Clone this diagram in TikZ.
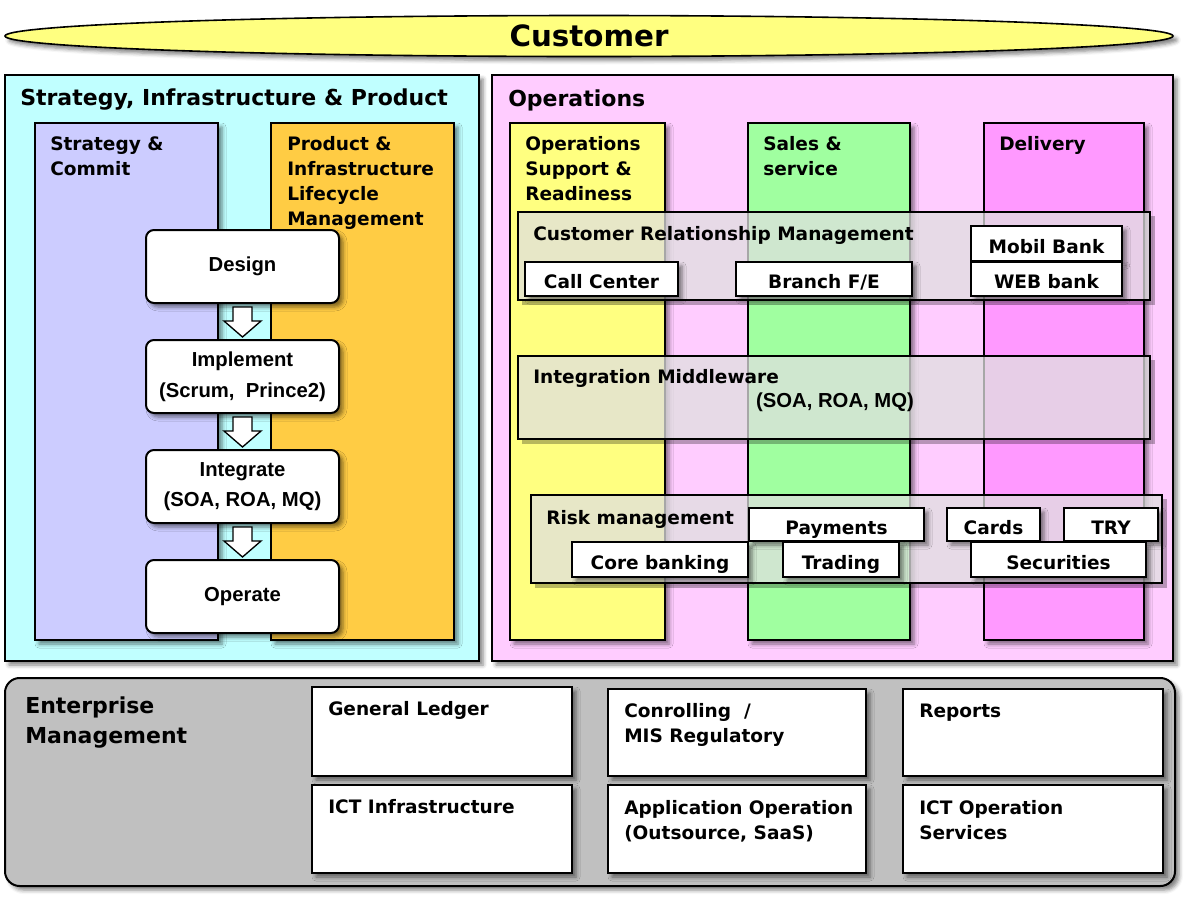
\documentclass[tikz,border=0pt]{standalone}
\usepackage{fontspec}
\setmainfont{DejaVu Sans}
\newfontfamily\ari{Liberation Sans}
\usetikzlibrary{shapes.geometric,shadows.blur,calc}
\definecolor{custyellow}{HTML}{FFFF80}
\definecolor{leftcyan}{HTML}{C0FFFF}
\definecolor{stratblue}{HTML}{CCCCFF}
\definecolor{prodorange}{HTML}{FFCC44}
\definecolor{rightpink}{HTML}{FFCCFF}
\definecolor{opsyellow}{HTML}{FFFF80}
\definecolor{salesgreen}{HTML}{A0FFA0}
\definecolor{delivpink}{HTML}{FF99FF}
\definecolor{veil}{HTML}{E0E0E0}
\definecolor{bottomgray}{HTML}{C0C0C0}
\begin{document}
\begin{tikzpicture}[x=0.75pt,y=-0.75pt,
  geom/.style n args={4}{at={(#1,#2)}, anchor=north west,
     minimum width={(#3-#1)*0.75pt}, minimum height={(#4-#2)*0.75pt}},
  frame/.style={draw=black, line width=1.5pt, inner sep=0pt, outer sep=0pt},
  shd/.style={blur shadow={shadow xshift=3pt, shadow yshift=-3pt, shadow blur radius=3pt, shadow opacity=50}},
  panel/.style={frame, shd},
  veilbox/.style={frame, fill=veil, fill opacity=0.75},
  vshd/.style={fill=black, fill opacity=0.28, draw=none},
  wbox/.style={frame, shd, fill=white, text height=1.45em, text depth=0pt,
     font=\fontsize{13.9}{17}\selectfont\bfseries},
  flowbox/.style={frame, shd, fill=white, rounded corners=6pt, align=center,
     font=\ari\fontsize{15.2}{23}\selectfont\bfseries},
  botbox/.style={frame, shd, fill=white},
  ttl/.style={anchor=base west, inner sep=0pt, font=\fontsize{16.5}{20}\selectfont\bfseries},
  lbl/.style={anchor=base west, inner sep=0pt, align=left, font=\fontsize{13.9}{18.75}\selectfont\bfseries},
  blockarr/.style={draw=black, line width=1pt, fill=white, line join=miter}
]
\useasboundingbox (0,0) rectangle (1189,900);

% Customer
\node[ellipse, draw=black, line width=1.2pt, fill=custyellow, shd, inner sep=0pt,
      minimum width=1168*0.75pt, minimum height=41*0.75pt] (cust) at (589,36) {};
\node[inner sep=0pt, font=\fontsize{22}{24}\selectfont\bfseries] (custt) at (cust.center) {Customer};

% Left panel
\node[panel, fill=leftcyan, geom={5}{75}{479}{661}] (left) {};
\node[ttl] (leftt) at ([shift={(15,30)}]left.north west) {Strategy, Infrastructure \& Product};
\node[panel, fill=stratblue, geom={35}{123}{218}{640}] (strat) {};
\node[panel, fill=prodorange, geom={271}{123}{454}{640}] (prod) {};
\node[lbl] (stratt) at ([shift={(15,52)}]strat.north west) {Strategy \&\\Commit};
\node[lbl] (prodt) at ([shift={(16,102)}]prod.north west) {Product \&\\Infrastructure\\Lifecycle\\Management};

\node[flowbox, geom={146}{230}{339}{303}] (design) {Design};
\node[flowbox, geom={146}{340}{339}{413}] (impl) {Implement\\(Scrum,\ \ Prince2)};
\node[flowbox, geom={146}{450}{339}{523}] (integ) {Integrate\\(SOA, ROA, MQ)};
\node[flowbox, geom={146}{560}{339}{633}] (oper) {Operate};

\foreach \a/\b/\n in {design/impl/m1, impl/integ/m2, integ/oper/m3}{
  \coordinate (\n) at ($(\a.south)!0.5!(\b.north)$);
  \draw[blockarr] ($(\n)+(-9.5,-14.5)$) -- ($(\n)+(9.5,-14.5)$) -- ($(\n)+(9.5,-0.5)$)
     -- ($(\n)+(18.5,-0.5)$) -- ($(\n)+(0,15.5)$) -- ($(\n)+(-18.5,-0.5)$)
     -- ($(\n)+(-9.5,-0.5)$) -- cycle;
}

% Right panel
\node[panel, fill=rightpink, geom={492}{75}{1173}{661}] (right) {};
\node[ttl] (rightt) at ([shift={(16,31)}]right.north west) {Operations};
\node[panel, fill=opsyellow, geom={510}{123}{665}{640}] (ops) {};
\node[panel, fill=salesgreen, geom={748}{123}{910}{640}] (sales) {};
\node[panel, fill=delivpink, geom={984}{123}{1144}{640}] (deliv) {};
\node[lbl] (opst) at ([shift={(15,77)}]ops.north west) {Operations\\Support \&\\Readiness};
\node[lbl] (salest) at ([shift={(15,52)}]sales.north west) {Sales \&\\service};
\node[lbl] (delivt) at ([shift={(15,27)}]deliv.north west) {Delivery};

% translucent bands
\node[veilbox, geom={518}{212}{1150}{300}] (crm) {};
\node[veilbox, geom={518}{356}{1150}{439}] (mid) {};
\node[veilbox, geom={531}{495}{1162}{583}] (risk) {};
\foreach \b in {crm, mid, risk}{
  \fill[vshd] ([yshift=-3pt]\b.north east) rectangle ([xshift=3.5pt,yshift=-3.5pt]\b.south east);
  \fill[vshd] ([xshift=3pt]\b.south west) rectangle ([yshift=-3.5pt]\b.south east);
}

% CRM
\node[lbl] (crmt) at ([shift={(15,28)}]crm.north west) {Customer Relationship Management};
\node[wbox, geom={525}{262}{678}{296}] (callc) {Call Center};
\node[wbox, geom={736}{262}{912}{296}] (branch) {Branch F/E};
\node[wbox, geom={971}{226}{1122}{261}] (mobil) {Mobil Bank};
\node[wbox, geom={971}{262}{1122}{296}] (web) {WEB bank};

% Middleware
\node[lbl] (midt) at ([shift={(15,27)}]mid.north west) {Integration Middleware};
\node[inner sep=0pt, font=\ari\fontsize{15.2}{18}\selectfont\bfseries] (mids) at ([shift={(1,5)}]mid.center) {(SOA, ROA, MQ)};

% Risk
\node[lbl] (riskt) at ([shift={(15,29)}]risk.north west) {Risk management};
\node[wbox, geom={572}{542}{748}{577}] (core) {Core banking};
\node[wbox, geom={749}{508}{924}{541}] (pay) {Payments};
\node[wbox, geom={783}{542}{899}{577}] (trad) {Trading};
\node[wbox, geom={947}{508}{1040}{541}] (cards) {Cards};
\node[wbox, geom={1064}{508}{1158}{541}] (try) {TRY};
\node[wbox, geom={971}{542}{1146}{577}] (secu) {Securities};

% Enterprise management
\node[panel, fill=bottomgray, rounded corners=11pt, geom={5}{678}{1175}{886}] (ent) {};
\node[ttl, align=left, font=\fontsize{16.5}{22.5}\selectfont\bfseries] (entt) at ([shift={(20,65)}]ent.north west) {Enterprise\\Management};
\node[botbox, geom={312}{687}{572}{776}] (gl) {};
\node[botbox, geom={608}{689}{866}{776}] (ctrl) {};
\node[botbox, geom={903}{689}{1163}{776}] (rep) {};
\node[botbox, geom={312}{785}{572}{873}] (icti) {};
\node[botbox, geom={608}{785}{866}{873}] (appop) {};
\node[botbox, geom={903}{785}{1163}{873}] (ictos) {};
\node[lbl] (glt) at ([shift={(16,28)}]gl.north west) {General Ledger};
\node[lbl] (ctrlt) at ([shift={(16,53)}]ctrl.north west) {Conrolling~~/\\MIS Regulatory};
\node[lbl] (rept) at ([shift={(16,28)}]rep.north west) {Reports};
\node[lbl] (ictit) at ([shift={(16,28)}]icti.north west) {ICT Infrastructure};
\node[lbl] (appopt) at ([shift={(16,54)}]appop.north west) {Application Operation\\(Outsource, SaaS)};
\node[lbl] (ictost) at ([shift={(16,54)}]ictos.north west) {ICT Operation\\Services};
\end{tikzpicture}
\end{document}
